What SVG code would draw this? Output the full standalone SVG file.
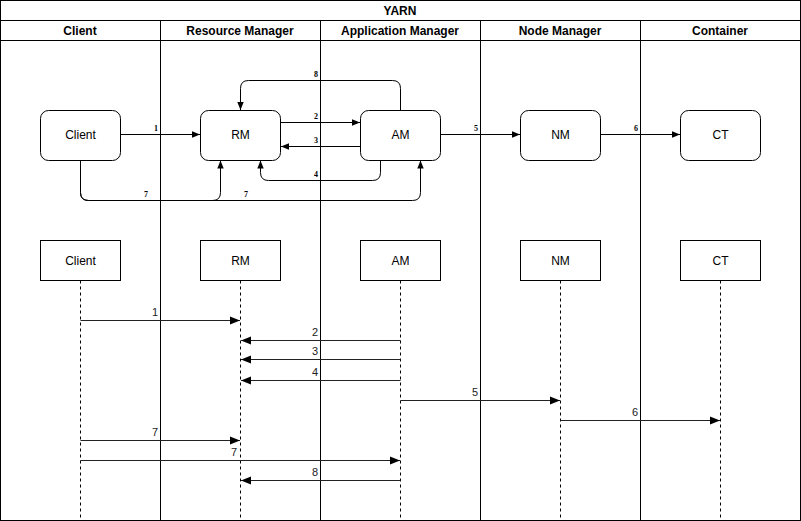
<svg xmlns="http://www.w3.org/2000/svg" width="801" height="521" viewBox="0 0 801 521">
<defs>
<marker id="a" viewBox="0 0 10 10" refX="10" refY="5" markerWidth="8" markerHeight="8" markerUnits="userSpaceOnUse" orient="auto"><path d="M0,1 L10,5 L0,9 Z" fill="#000"/></marker>
<marker id="b" viewBox="0 0 10 10" refX="10" refY="5" markerWidth="10" markerHeight="10" markerUnits="userSpaceOnUse" orient="auto"><path d="M0,1 L10,5 L0,9 Z" fill="#000"/></marker>
<style>
.h{font-family:"Liberation Sans",Arial,sans-serif;font-size:12px;font-weight:bold;text-anchor:middle;fill:#000}
.t{font-family:"Liberation Sans",Arial,sans-serif;font-size:12px;text-anchor:middle;fill:#000}
.s{font-family:"Liberation Serif","Times New Roman",serif;font-size:8px;font-weight:bold;text-anchor:middle;fill:#000}
.m{font-family:"Liberation Sans",Arial,sans-serif;font-size:11px;text-anchor:middle;fill:#222}
.box{fill:#fff;stroke:#000;stroke-width:1}
.lane{fill:none;stroke:#000;stroke-width:1}
.c{fill:none;stroke:#000;stroke-width:1;marker-end:url(#a)}
.g{fill:none;stroke:#222;stroke-width:1;marker-end:url(#b)}
.life{stroke:#000;stroke-width:1;stroke-dasharray:3,3}
</style>
</defs>
<rect width="801" height="521" fill="#fff"/>
<g id="pool">
<rect class="lane" x="0.5" y="0.5" width="800" height="520"/>
<line class="lane" x1="0.5" y1="20.5" x2="800.5" y2="20.5"/>
<line class="lane" x1="0.5" y1="40.5" x2="800.5" y2="40.5"/>
<line class="lane" x1="160.5" y1="20.5" x2="160.5" y2="520.5"/>
<line class="lane" x1="320.5" y1="20.5" x2="320.5" y2="520.5"/>
<line class="lane" x1="480.5" y1="20.5" x2="480.5" y2="520.5"/>
<line class="lane" x1="640.5" y1="20.5" x2="640.5" y2="520.5"/>
<text class="h" x="400" y="15">YARN</text>
<text class="h" x="80" y="35">Client</text>
<text class="h" x="240" y="35">Resource Manager</text>
<text class="h" x="400" y="35">Application Manager</text>
<text class="h" x="560" y="35">Node Manager</text>
<text class="h" x="720" y="35">Container</text>
</g>
<g id="connectors">
<path class="c" d="M120.5,134.5 H200"/>
<path class="c" d="M280.5,122.5 H360"/>
<path class="c" d="M360.5,146.5 H281"/>
<path class="c" d="M380.5,160.5 V172.5 Q380.5,180.5 372.5,180.5 H268.5 Q260.5,180.5 260.5,172.5 V160.5"/>
<path class="c" d="M440.5,134.5 H520"/>
<path class="c" d="M600.5,134.5 H680"/>
<path class="c" d="M80.5,160.5 V192.5 Q80.5,200.5 88.5,200.5 H212.5 Q220.5,200.5 220.5,192.5 V160.5"/>
<path class="c" d="M80.5,160.5 V192.5 Q80.5,200.5 88.5,200.5 H412.5 Q420.5,200.5 420.5,192.5 V160.5"/>
<path class="c" d="M400.5,110.5 V88.5 Q400.5,80.5 392.5,80.5 H248.5 Q240.5,80.5 240.5,88.5 V110"/>
<text class="s" x="156" y="131">1</text>
<text class="s" x="316" y="119">2</text>
<text class="s" x="316" y="143">3</text>
<text class="s" x="316" y="177">4</text>
<text class="s" x="476" y="131">5</text>
<text class="s" x="636" y="131">6</text>
<text class="s" x="146" y="197">7</text>
<text class="s" x="246" y="197">7</text>
<text class="s" x="316" y="77">8</text>
<line class="life" x1="80.5" y1="280.5" x2="80.5" y2="520"/>
<line class="life" x1="240.5" y1="280.5" x2="240.5" y2="520"/>
<line class="life" x1="400.5" y1="280.5" x2="400.5" y2="520"/>
<line class="life" x1="560.5" y1="280.5" x2="560.5" y2="520"/>
<line class="life" x1="720.5" y1="280.5" x2="720.5" y2="520"/>
<path class="g" d="M80.5,320.5 H240"/>
<path class="g" d="M400.5,340.5 H241"/>
<path class="g" d="M400.5,359.5 H241"/>
<path class="g" d="M400.5,380.5 H241"/>
<path class="g" d="M400.5,400.5 H560"/>
<path class="g" d="M560.5,420.5 H720"/>
<path class="g" d="M80.5,440.5 H240"/>
<path class="g" d="M80.5,460.5 H400"/>
<path class="g" d="M400.5,480.5 H241"/>
<text class="m" x="155" y="316">1</text>
<text class="m" x="315" y="336">2</text>
<text class="m" x="315" y="355">3</text>
<text class="m" x="315" y="376">4</text>
<text class="m" x="475" y="396">5</text>
<text class="m" x="635" y="416">6</text>
<text class="m" x="155" y="436">7</text>
<text class="m" x="234" y="456">7</text>
<text class="m" x="315" y="476">8</text>
</g>
<g id="client"><rect class="box" x="40.5" y="110.5" width="80" height="50" rx="8"/><text class="t" x="80.5" y="139">Client</text></g>
<g id="rm"><rect class="box" x="200.5" y="110.5" width="80" height="50" rx="8"/><text class="t" x="240.5" y="139">RM</text></g>
<g id="am"><rect class="box" x="360.5" y="110.5" width="80" height="50" rx="8"/><text class="t" x="400.5" y="139">AM</text></g>
<g id="nm"><rect class="box" x="520.5" y="110.5" width="80" height="50" rx="8"/><text class="t" x="560.5" y="139">NM</text></g>
<g id="ct"><rect class="box" x="680.5" y="110.5" width="80" height="50" rx="8"/><text class="t" x="720.5" y="139">CT</text></g>
<g id="client2"><rect class="box" x="40.5" y="240.5" width="80" height="40"/><text class="t" x="80.5" y="265">Client</text></g>
<g id="rm2"><rect class="box" x="200.5" y="240.5" width="80" height="40"/><text class="t" x="240.5" y="265">RM</text></g>
<g id="am2"><rect class="box" x="360.5" y="240.5" width="80" height="40"/><text class="t" x="400.5" y="265">AM</text></g>
<g id="nm2"><rect class="box" x="520.5" y="240.5" width="80" height="40"/><text class="t" x="560.5" y="265">NM</text></g>
<g id="ct2"><rect class="box" x="680.5" y="240.5" width="80" height="40"/><text class="t" x="720.5" y="265">CT</text></g>
</svg>
